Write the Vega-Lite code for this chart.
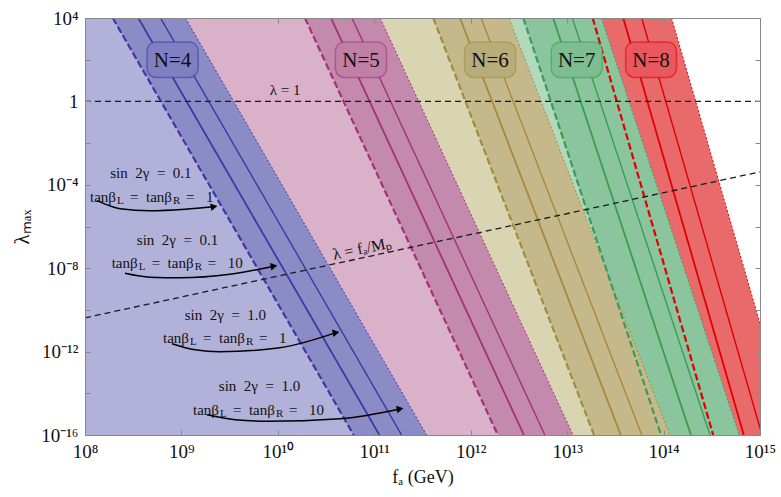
{
  "$schema": "https://vega.github.io/schema/vega-lite/v6.json",
  "width": 675,
  "height": 417,
  "autosize": "none",
  "padding": {"left": 85, "top": 18, "right": 21, "bottom": 62},
  "background": "white",
  "config": {"view": {"stroke": null}, "font": "Liberation Serif"},
  "datasets": {
    "bands": [
      {"N": 8, "band": "8L", "lam": 1e4, "f": 1e8, "f2": 1.84e13},
      {"N": 8, "band": "8L", "lam": 1e-16, "f": 1e8, "f2": 3.27e14},
      {"N": 8, "band": "8D", "lam": 1e4, "f": 1.84e13, "f2": 1.21e14},
      {"N": 8, "band": "8D", "lam": 1e-16, "f": 3.27e14, "f2": 2.16e15},
      {"N": 7, "band": "7L", "lam": 1e4, "f": 1e8, "f2": 3.51e12},
      {"N": 7, "band": "7L", "lam": 1e-16, "f": 1e8, "f2": 9.42e13},
      {"N": 7, "band": "7D", "lam": 1e4, "f": 3.51e12, "f2": 2.27e13},
      {"N": 7, "band": "7D", "lam": 1e-16, "f": 9.42e13, "f2": 6.10e14},
      {"N": 6, "band": "6L", "lam": 1e4, "f": 1e8, "f2": 4.09e11},
      {"N": 6, "band": "6L", "lam": 1e-16, "f": 1e8, "f2": 1.90e13},
      {"N": 6, "band": "6D", "lam": 1e4, "f": 4.09e11, "f2": 2.49e12},
      {"N": 6, "band": "6D", "lam": 1e-16, "f": 1.90e13, "f2": 1.16e14},
      {"N": 5, "band": "5L", "lam": 1e4, "f": 1e8, "f2": 1.91e10},
      {"N": 5, "band": "5L", "lam": 1e-16, "f": 1e8, "f2": 1.91e12},
      {"N": 5, "band": "5D", "lam": 1e4, "f": 1.91e10, "f2": 1.15e11},
      {"N": 5, "band": "5D", "lam": 1e-16, "f": 1.91e12, "f2": 1.15e13},
      {"N": 4, "band": "4L", "lam": 1e4, "f": 1e8, "f2": 1.94e8},
      {"N": 4, "band": "4L", "lam": 1e-16, "f": 1e8, "f2": 6.12e10},
      {"N": 4, "band": "4D", "lam": 1e4, "f": 1.94e8, "f2": 1.10e9},
      {"N": 4, "band": "4D", "lam": 1e-16, "f": 6.12e10, "f2": 3.48e11}
    ],
    "lines": [
      {"N": 4, "type": "dashed", "lam": 1e4, "f": 1.94e8}, {"N": 4, "type": "dashed", "lam": 1e-16, "f": 6.12e10},
      {"N": 4, "type": "thin", "lam": 1e4, "f": 3.57e8}, {"N": 4, "type": "thin", "lam": 1e-16, "f": 1.13e11},
      {"N": 4, "type": "thick", "lam": 1e4, "f": 6.07e8}, {"N": 4, "type": "thick", "lam": 1e-16, "f": 1.92e11},
      {"N": 4, "type": "dotted", "lam": 1e4, "f": 1.10e9}, {"N": 4, "type": "dotted", "lam": 1e-16, "f": 3.48e11},
      {"N": 5, "type": "dashed", "lam": 1e4, "f": 1.91e10}, {"N": 5, "type": "dashed", "lam": 1e-16, "f": 1.91e12},
      {"N": 5, "type": "thin", "lam": 1e4, "f": 3.56e10}, {"N": 5, "type": "thin", "lam": 1e-16, "f": 3.56e12},
      {"N": 5, "type": "thick", "lam": 1e4, "f": 5.87e10}, {"N": 5, "type": "thick", "lam": 1e-16, "f": 5.87e12},
      {"N": 5, "type": "dotted", "lam": 1e4, "f": 1.15e11}, {"N": 5, "type": "dotted", "lam": 1e-16, "f": 1.15e13},
      {"N": 6, "type": "dashed", "lam": 1e4, "f": 4.09e11}, {"N": 6, "type": "dashed", "lam": 1e-16, "f": 1.90e13},
      {"N": 6, "type": "thin", "lam": 1e4, "f": 7.74e11}, {"N": 6, "type": "thin", "lam": 1e-16, "f": 3.60e13},
      {"N": 6, "type": "thick", "lam": 1e4, "f": 1.28e12}, {"N": 6, "type": "thick", "lam": 1e-16, "f": 5.94e13},
      {"N": 6, "type": "dotted", "lam": 1e4, "f": 2.49e12}, {"N": 6, "type": "dotted", "lam": 1e-16, "f": 1.16e14},
      {"N": 7, "type": "dashed", "lam": 1e4, "f": 3.51e12}, {"N": 7, "type": "dashed", "lam": 1e-16, "f": 9.42e13},
      {"N": 7, "type": "thin", "lam": 1e4, "f": 7.16e12}, {"N": 7, "type": "thin", "lam": 1e-16, "f": 1.92e14},
      {"N": 7, "type": "thick", "lam": 1e4, "f": 1.13e13}, {"N": 7, "type": "thick", "lam": 1e-16, "f": 3.03e14},
      {"N": 7, "type": "dotted", "lam": 1e4, "f": 2.27e13}, {"N": 7, "type": "dotted", "lam": 1e-16, "f": 6.10e14},
      {"N": 8, "type": "dashed", "lam": 1e4, "f": 1.84e13}, {"N": 8, "type": "dashed", "lam": 1e-16, "f": 3.27e14},
      {"N": 8, "type": "thin", "lam": 1e4, "f": 3.82e13}, {"N": 8, "type": "thin", "lam": 1e-16, "f": 6.79e14},
      {"N": 8, "type": "thick", "lam": 1e4, "f": 5.93e13}, {"N": 8, "type": "thick", "lam": 1e-16, "f": 1.05e15},
      {"N": 8, "type": "dotted", "lam": 1e4, "f": 1.21e14}, {"N": 8, "type": "dotted", "lam": 1e-16, "f": 2.16e15}
    ],
    "refs": [
      {"ref": "one", "f": 1e8, "lam": 1}, {"ref": "one", "f": 1e15, "lam": 1},
      {"ref": "mp", "f": 1e8, "lam": 4.17e-11}, {"ref": "mp", "f": 1e15, "lam": 4.17e-4}
    ],
    "boxes": [
      {"N": 4, "label": "N=4", "f": 4.40e8, "f2": 1.49e9, "lam": 14, "lam2": 710, "fc": 8.07e8, "lamc": 90},
      {"N": 5, "label": "N=5", "f": 3.95e10, "f2": 1.34e11, "lam": 14, "lam2": 710, "fc": 7.28e10, "lamc": 90},
      {"N": 6, "label": "N=6", "f": 8.63e11, "f2": 2.92e12, "lam": 14, "lam2": 710, "fc": 1.585e12, "lamc": 90},
      {"N": 7, "label": "N=7", "f": 6.84e12, "f2": 2.31e13, "lam": 14, "lam2": 710, "fc": 1.256e13, "lamc": 90},
      {"N": 8, "label": "N=8", "f": 4.04e13, "f2": 1.36e14, "lam": 14, "lam2": 710, "fc": 7.41e13, "lamc": 90}
    ],
    "labels": [
      {"id": "one", "text": "λ\u00a0=\u00a01", "f": 1.19e10, "lam": 3.64},
      {"id": "mp", "text": "λ\u00a0=\u00a0fₐ/Mₚ", "f": 7.46e10, "lam": 8.6e-8},
      {"id": "s1", "text": "sin\u00a0\u00a02γ\u00a0\u00a0=\u00a0\u00a00.1", "f": 4.83e8, "lam": 3.8e-4},
      {"id": "s2", "text": "sin\u00a0\u00a02γ\u00a0\u00a0=\u00a0\u00a00.1", "f": 9.10e8, "lam": 2.33e-7},
      {"id": "s3", "text": "sin\u00a0\u00a02γ\u00a0\u00a0=\u00a0\u00a01.0", "f": 2.86e9, "lam": 5.89e-11},
      {"id": "s4", "text": "sin\u00a0\u00a02γ\u00a0\u00a0=\u00a0\u00a01.0", "f": 6.45e9, "lam": 2.14e-14}
    ],
    "tans": [
      {"val": "1", "f": 1.127e8, "lam": 2.69e-5},
      {"val": "10", "f": 1.89e8, "lam": 1.78e-8},
      {"val": "1", "f": 6.44e8, "lam": 4.65e-12},
      {"val": "10", "f": 1.318e9, "lam": 1.63e-15}
    ],
    "arrows": [
      {"arrow": 1, "f": 1.332e8, "lam": 1.73e-5, "head": false},
      {"arrow": 1, "f": 2.31e8, "lam": 7.14e-6, "head": false},
      {"arrow": 1, "f": 4.72e8, "lam": 5.73e-6, "head": false},
      {"arrow": 1, "f": 1.089e9, "lam": 6.76e-6, "head": false},
      {"arrow": 1, "f": 2.18e9, "lam": 8.9e-6, "head": true},
      {"arrow": 2, "f": 2.60e8, "lam": 5.75e-9, "head": false},
      {"arrow": 2, "f": 4.72e8, "lam": 3.71e-9, "head": false},
      {"arrow": 2, "f": 9.66e8, "lam": 3.50e-9, "head": false},
      {"arrow": 2, "f": 3.19e9, "lam": 5.15e-9, "head": false},
      {"arrow": 2, "f": 9.12e9, "lam": 1.25e-8, "head": true},
      {"arrow": 3, "f": 7.98e8, "lam": 2.39e-12, "head": false},
      {"arrow": 3, "f": 1.383e9, "lam": 1.23e-12, "head": false},
      {"arrow": 3, "f": 2.51e9, "lam": 9.9e-13, "head": false},
      {"arrow": 3, "f": 1.052e10, "lam": 1.54e-12, "head": false},
      {"arrow": 3, "f": 4.01e10, "lam": 8.1e-12, "head": true},
      {"arrow": 4, "f": 1.84e9, "lam": 9.4e-16, "head": false},
      {"arrow": 4, "f": 3.60e9, "lam": 5.42e-16, "head": false},
      {"arrow": 4, "f": 7.71e9, "lam": 4.59e-16, "head": false},
      {"arrow": 4, "f": 4.41e10, "lam": 6.05e-16, "head": false},
      {"arrow": 4, "f": 1.85e11, "lam": 1.78e-15, "head": true}
    ]
  },
  "encoding": {
    "x": {"field": "f", "type": "quantitative", "scale": {"type": "log", "domain": [1e8, 1e15], "nice": false, "zero": false}, "axis": null},
    "y": {"field": "lam", "type": "quantitative", "scale": {"type": "log", "domain": [1e-16, 1e4], "nice": false, "zero": false}, "axis": null}
  },
  "layer": [
    {
      "data": {"name": "bands"},
      "transform": [{"filter": "datum.N == 8"}],
      "mark": {"type": "area", "orient": "horizontal", "clip": true},
      "encoding": {
        "x": {"field": "f", "type": "quantitative", "scale": {"type": "log", "domain": [1e8, 1e15], "nice": false, "zero": false},
          "axis": {"orient": "bottom", "values": [1e8, 1e9, 1e10, 1e11, 1e12, 1e13, 1e14, 1e15],
            "labelExpr": "['10⁸','10⁹','10¹⁰','10¹¹','10¹²','10¹³','10¹⁴','10¹⁵'][round(log(datum.value)/LN10)-8]",
            "tickSize": -5, "tickColor": "#888", "domainColor": "#888", "labelPadding": 12, "labelFont": "Liberation Serif", "labelFontSize": 19, "labelColor": "#111",
            "labelFlush": false, "labelOverlap": false, "grid": false, "zindex": 1,
            "title": "fₐ (GeV)", "titleFont": "Liberation Serif", "titleFontSize": 18, "titleFontWeight": "normal", "titleColor": "#111", "titlePadding": 7}},
        "y": {"field": "lam", "type": "quantitative", "scale": {"type": "log", "domain": [1e-16, 1e4], "nice": false, "zero": false},
          "axis": {"orient": "left", "values": [1e-16, 1e-14, 1e-12, 1e-10, 1e-8, 1e-6, 1e-4, 1e-2, 1, 100, 1e4],
            "labelExpr": "datum.value >= 5000 ? '10⁴' : (datum.value > 0.5 && datum.value < 2) ? '1' : abs(log(datum.value)/LN10 + 4) < 0.1 ? '10⁻⁴' : abs(log(datum.value)/LN10 + 8) < 0.1 ? '10⁻⁸' : abs(log(datum.value)/LN10 + 12) < 0.1 ? '10⁻¹²' : abs(log(datum.value)/LN10 + 16) < 0.1 ? '10⁻¹⁶' : ''",
            "tickSize": -5, "tickColor": "#888", "domainColor": "#888", "labelPadding": 12, "labelFont": "Liberation Serif", "labelFontSize": 19, "labelColor": "#111",
            "labelFlush": false, "labelOverlap": false, "grid": false, "zindex": 1,
            "title": "λₘₐₓ", "titleFont": "Liberation Serif", "titleFontSize": 21, "titleFontWeight": "normal", "titleColor": "#111", "titlePadding": 8}},
        "x2": {"field": "f2"},
        "fill": {"field": "band", "type": "nominal", "legend": null,
          "scale": {"domain": ["4L", "4D", "5L", "5D", "6L", "6D", "7L", "7D", "8L", "8D"],
            "range": ["#b1b1d9", "#8b8bc6", "#d9b1c9", "#c38aae", "#d9d5b3", "#c5b98b", "#b2d9bc", "#8ac59d", "#eda0a0", "#e96a6a"]}}
      }
    },
    {
      "data": {"name": "bands"},
      "transform": [{"filter": "datum.N == 7"}],
      "mark": {"type": "area", "orient": "horizontal", "clip": true},
      "encoding": {"x2": {"field": "f2"}, "fill": {"field": "band", "type": "nominal", "legend": null}}
    },
    {
      "data": {"name": "bands"},
      "transform": [{"filter": "datum.N == 6"}],
      "mark": {"type": "area", "orient": "horizontal", "clip": true},
      "encoding": {"x2": {"field": "f2"}, "fill": {"field": "band", "type": "nominal", "legend": null}}
    },
    {
      "data": {"name": "bands"},
      "transform": [{"filter": "datum.N == 5"}],
      "mark": {"type": "area", "orient": "horizontal", "clip": true},
      "encoding": {"x2": {"field": "f2"}, "fill": {"field": "band", "type": "nominal", "legend": null}}
    },
    {
      "data": {"name": "bands"},
      "transform": [{"filter": "datum.N == 4"}],
      "mark": {"type": "area", "orient": "horizontal", "clip": true},
      "encoding": {"x2": {"field": "f2"}, "fill": {"field": "band", "type": "nominal", "legend": null}}
    },
    {
      "data": {"name": "lines"},
      "mark": {"type": "line", "clip": true, "strokeCap": "butt"},
      "encoding": {
        "detail": [{"field": "N", "type": "nominal"}, {"field": "type", "type": "nominal"}],
        "stroke": {"field": "N", "type": "nominal", "legend": null,
          "scale": {"domain": [4, 5, 6, 7, 8], "range": ["#3a3aa6", "#a3317a", "#a08d3b", "#3a9b5a", "#e00000"]}},
        "strokeDash": {"field": "type", "type": "nominal", "legend": null,
          "scale": {"domain": ["dashed", "thin", "thick", "dotted"], "range": [[7, 3], [1, 0], [1, 0], [2, 2]]}},
        "strokeWidth": {"field": "type", "type": "ordinal", "legend": null,
          "scale": {"domain": ["dashed", "thin", "thick", "dotted"], "range": [2.2, 1, 2.2, 3]}}
      }
    },
    {
      "data": {"name": "refs"},
      "mark": {"type": "line", "clip": true, "stroke": "#1a1a1a", "strokeWidth": 1.3, "strokeDash": [6, 4]},
      "encoding": {
        "detail": {"field": "ref", "type": "nominal"},
        "x": {"field": "f", "type": "quantitative", "scale": {"type": "log", "domain": [1e8, 1e15], "nice": false, "zero": false},
          "axis": {"orient": "top", "values": [1e8, 1e9, 1e10, 1e11, 1e12, 1e13, 1e14, 1e15], "labels": false, "tickSize": -5,
            "tickColor": "#888", "domainColor": "#888", "grid": false, "zindex": 1, "title": null}},
        "y": {"field": "lam", "type": "quantitative", "scale": {"type": "log", "domain": [1e-16, 1e4], "nice": false, "zero": false},
          "axis": {"orient": "right", "values": [1e-16, 1e-14, 1e-12, 1e-10, 1e-8, 1e-6, 1e-4, 1e-2, 1, 100, 1e4], "labels": false, "tickSize": -5,
            "tickColor": "#888", "domainColor": "#888", "grid": false, "zindex": 1, "title": null}}
      }
    },
    {
      "data": {"name": "boxes"},
      "mark": {"type": "rect", "cornerRadius": 9, "strokeWidth": 1.5, "strokeOpacity": 0.55},
      "encoding": {
        "x2": {"field": "f2"},
        "y2": {"field": "lam2"},
        "color": {"field": "N", "type": "nominal", "legend": null,
          "scale": {"domain": [4, 5, 6, 7, 8], "range": ["#7f7fc1", "#c07fa6", "#b9ac7b", "#7dbd8f", "#e8585e"]}},
        "stroke": {"field": "N", "type": "nominal", "legend": null}
      }
    },
    {
      "data": {"name": "boxes"},
      "mark": {"type": "text", "font": "Liberation Serif", "fontSize": 21, "color": "#111", "baseline": "middle", "align": "center"},
      "encoding": {
        "x": {"field": "fc", "type": "quantitative", "scale": {"type": "log", "domain": [1e8, 1e15], "nice": false, "zero": false}, "axis": null},
        "y": {"field": "lamc", "type": "quantitative", "scale": {"type": "log", "domain": [1e-16, 1e4], "nice": false, "zero": false}, "axis": null},
        "text": {"field": "label"}
      }
    },
    {
      "data": {"name": "labels"},
      "transform": [{"filter": "datum.id != 'mp'"}],
      "mark": {"type": "text", "font": "Liberation Serif", "fontSize": 15, "color": "#111", "baseline": "middle", "align": "center"},
      "encoding": {"text": {"field": "text"}}
    },
    {
      "data": {"name": "labels"},
      "transform": [{"filter": "datum.id == 'mp'"}],
      "mark": {"type": "text", "font": "Liberation Serif", "fontSize": 16, "color": "#111", "baseline": "middle", "align": "center", "angle": -12},
      "encoding": {"text": {"field": "text"}}
    },
    {
      "data": {"name": "tans"},
      "mark": {"type": "text", "font": "Liberation Serif", "fontSize": 15, "color": "#111", "baseline": "middle", "align": "left", "dx": 0},
      "encoding": {"text": {"value": "tanβ"}}
    },
    {
      "data": {"name": "tans"},
      "mark": {"type": "text", "font": "Liberation Serif", "fontSize": 11, "color": "#111", "baseline": "middle", "align": "left", "dx": 27, "dy": 4},
      "encoding": {"text": {"value": "L"}}
    },
    {
      "data": {"name": "tans"},
      "mark": {"type": "text", "font": "Liberation Serif", "fontSize": 15, "color": "#111", "baseline": "middle", "align": "left", "dx": 40},
      "encoding": {"text": {"value": "=\u00a0\u00a0tanβ"}}
    },
    {
      "data": {"name": "tans"},
      "mark": {"type": "text", "font": "Liberation Serif", "fontSize": 11, "color": "#111", "baseline": "middle", "align": "left", "dx": 83, "dy": 4},
      "encoding": {"text": {"value": "R"}}
    },
    {
      "data": {"name": "tans"},
      "mark": {"type": "text", "font": "Liberation Serif", "fontSize": 15, "color": "#111", "baseline": "middle", "align": "left", "dx": 96},
      "encoding": {"text": {"value": "="}}
    },
    {
      "data": {"name": "tans"},
      "mark": {"type": "text", "font": "Liberation Serif", "fontSize": 15, "color": "#111", "baseline": "middle", "align": "left", "dx": 116},
      "encoding": {"text": {"field": "val"}}
    },
    {
      "data": {"name": "arrows"},
      "mark": {"type": "line", "interpolate": "monotone", "stroke": "#000", "strokeWidth": 1.5},
      "encoding": {"detail": {"field": "arrow", "type": "nominal"}}
    },
    {
      "data": {"name": "arrows"},
      "transform": [{"filter": "datum.head"}],
      "mark": {"type": "point", "shape": "triangle-right", "filled": true, "color": "#000", "opacity": 1, "size": 60, "angle": -10}
    }
  ],
  "resolve": {"axis": {"x": "independent", "y": "independent"}}
}
